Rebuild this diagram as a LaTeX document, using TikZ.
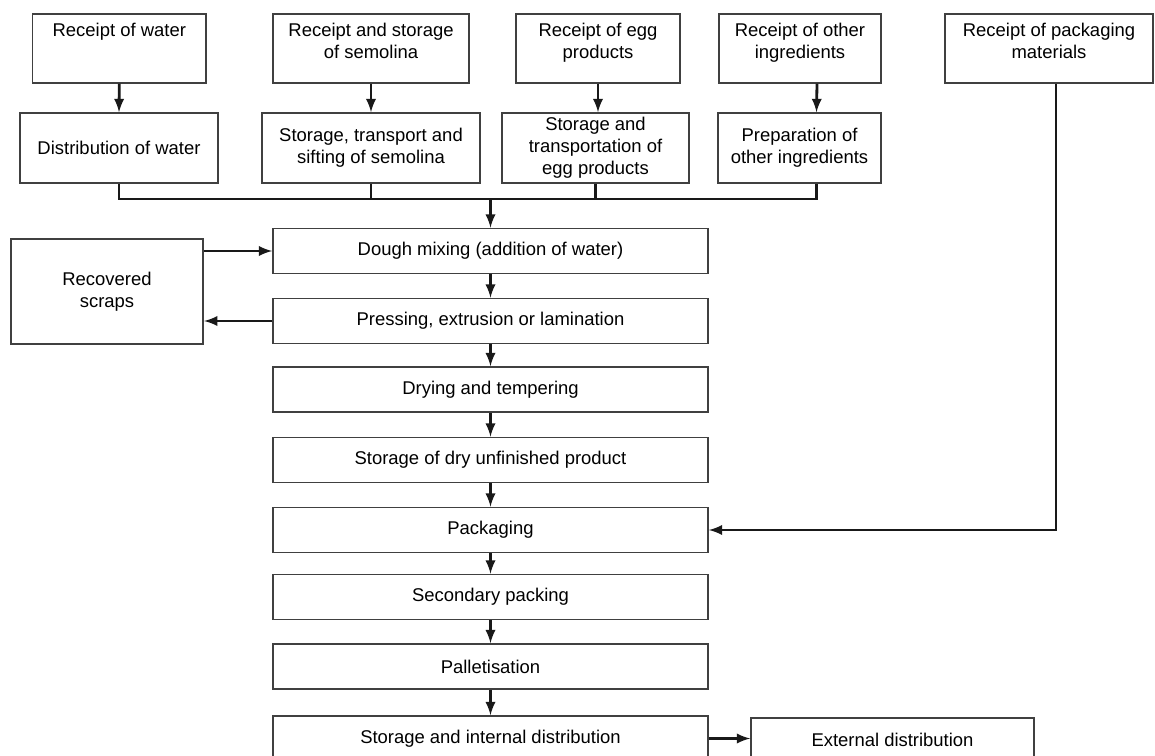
\documentclass[tikz,border=0pt]{standalone}
\usepackage{fontspec}
\setmainfont{Liberation Sans}
\usetikzlibrary{shapes,arrows,calc}
\tikzstyle{mybox}=[draw=black!75,line width=0.9pt,inner sep=0pt,align=center]
\tikzstyle{mytop}=[mybox,text height=13pt,text depth=26.1pt]
\tikzstyle{mytoptwo}=[mybox,text height=25.4pt,text depth=13.7pt]
\tikzstyle{mymid}=[mybox,minimum height=1.4cm]
\tikzstyle{mymain}=[mybox,minimum width=8.7cm,minimum height=0.9cm]
\tikzstyle{myline}=[line width=1.6pt,black!90]
\tikzstyle{myarrow}=[myline,>=latex,->]

\begin{document}
\begin{tikzpicture}[x=0.02cm,y=-0.02cm,font=\fontsize{10.5}{12.4}\selectfont]
		\useasboundingbox (0,0) rectangle (1155,756);

		\node[mytop,minimum width=3.47cm] (recw) at (119.3,48.5) {Receipt of water};
		\node[mytoptwo,minimum width=3.92cm] (recs) at (371,48.5) {Receipt and storage\\of semolina};
		\node[mytoptwo,minimum width=3.28cm] (rece) at (598,48.5) {Receipt of egg\\products};
		\node[mytoptwo,minimum width=3.24cm] (reco) at (800,48.5) {Receipt of other\\ingredients};
		\node[mytoptwo,minimum width=4.16cm] (recp) at (1049,48.5) {Receipt of packaging\\materials};

		\node[mymid,minimum width=3.96cm] (distw) at (119,148) {Distribution of water};
		\node[mymid,minimum width=4.36cm] (sems) at (371,148) {Storage, transport and\\sifting of semolina};
		\node[mymid,minimum width=3.74cm] (eggs) at (595.5,148) {Storage and\\transportation of\\egg products};
		\node[mymid,minimum width=3.26cm] (prep) at (799.5,148) {Preparation of\\other ingredients};

		\node[mymain] (dough) at (490.5,251) {Dough mixing (addition of water)};
		\node[mymain] (press) at (490.5,321) {Pressing, extrusion or lamination};
		\node[mymain] (dry) at (490.5,389.5) {Drying and tempering};
		\node[mymain] (stdry) at (490.5,460) {Storage of dry unfinished product};
		\node[mymain] (pack) at (490.5,530) {Packaging};
		\node[mymain] (sec) at (490.5,597) {Secondary packing};
		\node[mymain] (pal) at (490.5,666.5) {Palletisation};
		\node[mymain] (stint) at (490.5,738.5) {Storage and internal distribution};

		\node[mybox,minimum width=3.85cm,minimum height=2.1cm] (scraps) at (107,291.5) {Recovered\\scraps};
		\node[mybox,minimum width=5.66cm,minimum height=0.86cm] (ext) at (892.5,739.5) {External distribution};

		% receipt -> storage
		\draw[myarrow] (recw.south) -- (distw.north);
		\draw[myarrow] (recs.south) -- (sems.north);
		\draw[myarrow] (rece.south) -- (rece.south |- eggs.north);
		\draw[myarrow] ($(reco.south)+(17,0)$) -- ($(prep.north)+(17,0)$);

		% collecting line
		\coordinate (bus) at (490.5,199);
		\draw[myline] (distw.south) |- (bus) -| ($(prep.south)+(17,0)$);
		\draw[myline] (sems.south) -- (sems.south |- bus);
		\draw[myline] (eggs.south) -- (eggs.south |- bus);
		\draw[myarrow] (bus) -- (dough.north);

		\foreach \a / \b in {dough/press,press/dry,dry/stdry,stdry/pack,pack/sec,sec/pal,pal/stint} {\draw[myarrow] (\a.south) -- (\b.north);}

		\draw[myarrow] (scraps.east |- dough.west) -- (dough.west);
		\draw[myarrow] (press.west) -- (scraps.east |- press.west);
		\draw[myarrow] ($(recp.south)+(7,0)$) |- (pack.east);
		\draw[myarrow] (stint.east) -- (stint.east -| ext.west);
	\end{tikzpicture}
\end{document}
